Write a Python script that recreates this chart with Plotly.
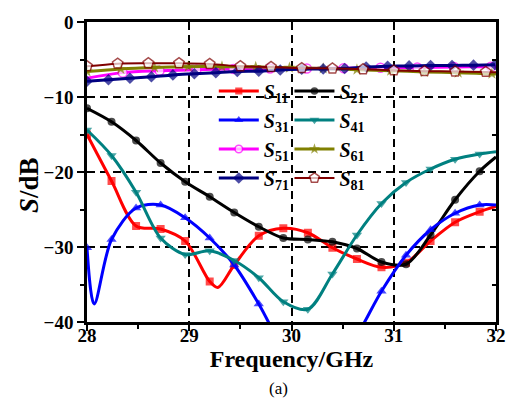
import plotly.graph_objects as go

# ---- data (frequency in GHz, S-parameters in dB) ----
F_A = [28.00, 28.24, 28.48, 28.72, 28.96, 29.20, 29.44, 29.68, 29.92, 30.16,
       30.40, 30.64, 30.88, 31.12, 31.36, 31.60, 31.84, 32.00]

S11_x = [28.00, 28.24, 28.48, 28.72, 28.96, 29.20, 29.28, 29.44, 29.68, 29.92,
         30.16, 30.40, 30.64, 30.88, 31.12, 31.36, 31.60, 31.84, 32.00]
S11_y = [-15.0, -21.2, -27.2, -27.6, -29.2, -34.6, -35.4, -32.4, -28.5, -27.5,
         -28.1, -30.1, -31.6, -32.7, -32.1, -29.2, -26.7, -25.3, -24.6]
S11_unmarked = [29.28, 32.00]

S21_x = F_A
S21_y = [-11.5, -13.3, -15.8, -18.8, -21.3, -23.3, -25.4, -27.3, -28.8, -29.0,
         -29.3, -30.2, -32.0, -32.3, -28.4, -23.7, -19.9, -18.0]
S21_unmarked = [32.00]

S31_x = [28.00, 28.07, 28.24, 28.48, 28.72, 28.96, 29.20, 29.44, 29.68, 29.92,
         30.16, 30.40, 30.64, 30.88, 31.12, 31.36, 31.60, 31.84, 32.00]
S31_y = [-30.1, -37.6, -29.0, -24.8, -24.4, -26.1, -28.8, -32.4, -37.6, -43.5,
         -47.0, -46.5, -41.8, -35.9, -31.1, -27.7, -25.5, -24.4, -24.4]
S31_unmarked = [28.07, 32.00]

S41_x = F_A
S41_y = [-14.4, -17.8, -22.7, -28.8, -31.0, -30.5, -31.8, -34.1, -37.3, -38.3,
         -33.6, -28.4, -24.2, -21.4, -19.6, -18.3, -17.6, -17.3]
S41_unmarked = [32.00]

S51_x = [28.00, 28.35, 28.71, 29.07, 29.43, 29.79, 30.15, 30.51, 30.87, 31.23,
         31.59, 31.95, 32.00]
S51_y = [-7.5, -6.75, -6.5, -6.35, -6.25, -6.2, -6.2, -6.15, -6.1, -6.05,
         -6.0, -5.95, -5.95]
S51_unmarked = [28.00, 32.00]

S61_x = [28.00, 28.33, 28.66, 28.99, 29.32, 29.65, 29.98, 30.31, 30.64, 30.97,
         31.30, 31.63, 31.96, 32.00]
S61_y = [-6.6, -6.25, -6.05, -5.95, -5.95, -6.0, -6.1, -6.2, -6.35, -6.5,
         -6.65, -6.75, -6.9, -6.95]
S61_unmarked = [32.00]

S71_x = [28.00, 28.21, 28.42, 28.63, 28.84, 29.05, 29.26, 29.47, 29.68, 29.89,
         30.10, 30.31, 30.52, 30.73, 30.94, 31.15, 31.36, 31.57, 31.78, 31.99]
S71_y = [-7.9, -7.7, -7.5, -7.3, -7.05, -6.9, -6.75, -6.6, -6.55, -6.4,
         -6.3, -6.25, -6.2, -6.0, -5.9, -5.85, -5.8, -5.8, -5.75, -5.7]
S71_unmarked = []

S81_x = [28.0, 28.3, 28.6, 28.9, 29.2, 29.5, 29.8, 30.1, 30.4, 30.7,
         31.0, 31.3, 31.6, 31.9, 32.0]
S81_y = [-5.9, -5.55, -5.5, -5.5, -5.6, -5.9, -6.0, -6.15, -6.2, -6.3,
         -6.45, -6.55, -6.6, -6.65, -6.7]
S81_unmarked = [32.0]

FONT = "Liberation Serif"

# (name, x, y, unmarked, color, line width, symbol, marker size, marker fill, legend)
series = [
    ("11", S11_x, S11_y, S11_unmarked, "#ff0000", 3, "square", 8, None, "legend"),
    ("21", S21_x, S21_y, S21_unmarked, "#000000", 3, "circle", 8, None, "legend2"),
    ("31", S31_x, S31_y, S31_unmarked, "#0000ff", 3, "triangle-up", 9, None, "legend"),
    ("41", S41_x, S41_y, S41_unmarked, "#008080", 3, "triangle-down", 9, None, "legend2"),
    ("51", S51_x, S51_y, S51_unmarked, "#ff00ff", 3, "circle", 9, "#ffffff", "legend"),
    ("61", S61_x, S61_y, S61_unmarked, "#808000", 3, "star", 9, None, "legend2"),
    ("71", S71_x, S71_y, S71_unmarked, "#000080", 3, "diamond", 9, None, "legend"),
    ("81", S81_x, S81_y, S81_unmarked, "#800000", 2, "pentagon", 11, "#ffffff", "legend2"),
]

fig = go.Figure()
for name, xs, ys, unmarked, color, lw, sym, ms, fill, leg in series:
    sizes = [0 if x in unmarked else ms for x in xs]
    fig.add_trace(go.Scatter(
        x=xs, y=ys, mode="lines+markers",
        name=f"<i>S</i><sub>{name}</sub>",
        legend=leg, legendgroup=name,
        line=dict(color=color, width=lw, shape="spline", smoothing=0.9),
        marker=dict(symbol=sym, size=sizes, color=fill if fill else color,
                    line=dict(color=color, width=1.5 if fill else 0)),
    ))

# right-hand frame axis with inward ticks
fig.add_trace(go.Scatter(x=[], y=[], xaxis="x", yaxis="y2", showlegend=False,
                         hoverinfo="skip"))

tickfont = dict(family=FONT, size=19, color="black", weight="bold")
legfont = dict(family=FONT, size=20, color="black", weight="bold")

fig.update_layout(
    width=518, height=419,
    margin=dict(l=87, r=20, t=15, b=97),
    paper_bgcolor="white", plot_bgcolor="white",
    font=dict(family=FONT, color="black"),
    showlegend=True,
    xaxis=dict(
        range=[28, 32], dtick=1, tick0=28,
        showline=True, linecolor="black", linewidth=2.5, mirror=True,
        ticks="outside", ticklen=6, tickwidth=2, tickcolor="black",
        tickfont=tickfont, ticklabelstandoff=-12,
        showgrid=True, gridcolor="black", gridwidth=2, griddash="8px,5px",
        zeroline=False,
        minor=dict(dtick=0.5, ticks="outside", ticklen=4, tickwidth=2,
                   tickcolor="black", showgrid=False),
        title=dict(text="Frequency/GHz", standoff=0,
                   font=dict(family=FONT, size=24, color="black", weight="bold")),
    ),
    yaxis=dict(
        range=[-40, 0], dtick=10, tick0=0,
        showline=True, linecolor="black", linewidth=2.5,
        ticks="outside", ticklen=7, tickwidth=2, tickcolor="black",
        tickfont=tickfont,
        showgrid=True, gridcolor="black", gridwidth=2, griddash="8px,5px",
        zeroline=False,
        minor=dict(dtick=5, ticks="outside", ticklen=4, tickwidth=2,
                   tickcolor="black", showgrid=False),
    ),
    yaxis2=dict(
        overlaying="y", side="right", anchor="x",
        range=[-40, 0], dtick=10, tick0=0,
        showline=True, linecolor="black", linewidth=2.5,
        ticks="inside", ticklen=6, tickwidth=2, tickcolor="black",
        showticklabels=False, showgrid=False, zeroline=False,
        minor=dict(dtick=5, ticks="inside", ticklen=4, tickwidth=2,
                   tickcolor="black", showgrid=False),
    ),
    legend=dict(
        x=0.31, y=0.835, xanchor="left", yanchor="top",
        bgcolor="rgba(0,0,0,0)", tracegroupgap=0, itemwidth=40,
        font=legfont,
    ),
    legend2=dict(
        x=0.495, y=0.835, xanchor="left", yanchor="top",
        bgcolor="rgba(0,0,0,0)", tracegroupgap=0, itemwidth=40,
        font=legfont,
    ),
    annotations=[
        dict(text="<i>S</i>/dB", xref="paper", yref="paper",
             x=-0.1436, y=0.4575, xanchor="center", yanchor="middle",
             textangle=-90, showarrow=False,
             font=dict(family=FONT, size=27, color="black", weight="bold")),
        dict(text="(a)", xref="paper", yref="paper",
             x=(279 - 87) / 411, y=-(390 - 321.7) / 306.7,
             xanchor="center", yanchor="middle", showarrow=False,
             font=dict(family=FONT, size=17, color="black")),
    ],
)

fig.write_html("out.html")
